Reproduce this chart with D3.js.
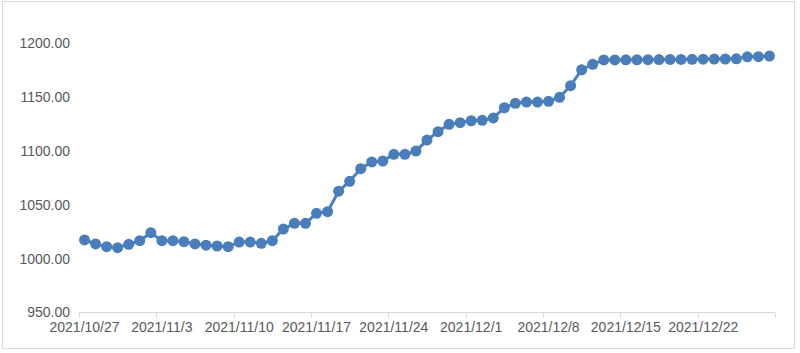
<!DOCTYPE html>
<html>
<head>
<meta charset="utf-8">
<script src="https://cdn.jsdelivr.net/npm/d3@7"></script>
<style>
  body { margin: 0; background: #fff; }
  svg text { font-family: "Liberation Sans", Arial, sans-serif; fill: #595959; font-size: 14px; }
</style>
</head>
<body>
<svg id="chart" width="800" height="353"></svg>
<script>
const startDate = "2021/10/27";
const values = [
  1017.4, 1013.7, 1011.2, 1010.2, 1013.4, 1016.7, 1024.2, 1016.7, 1016.7, 1015.8,
  1013.7, 1012.6, 1011.8, 1011.2, 1015.5, 1015.5, 1014.3, 1016.7, 1027.6, 1032.9,
  1032.9, 1042.2, 1043.7, 1062.8, 1071.9, 1083.7, 1089.9, 1090.8, 1097.0, 1097.0,
  1100.0, 1110.2, 1118.0, 1124.9, 1126.4, 1128.2, 1128.6, 1130.8, 1140.3, 1144.4,
  1145.6, 1145.6, 1146.3, 1150.0, 1160.8, 1175.6, 1180.7, 1184.7, 1184.7, 1184.8,
  1184.9, 1185.0, 1185.1, 1185.2, 1185.2, 1185.3, 1185.4, 1185.5, 1185.6, 1185.8,
  1187.6, 1187.7, 1188.3
];
const yTicks = [950, 1000, 1050, 1100, 1150, 1200];
const xTickLabels = ["2021/10/27", "2021/11/3", "2021/11/10", "2021/11/17", "2021/11/24",
  "2021/12/1", "2021/12/8", "2021/12/15", "2021/12/22"];

const parse = d3.timeParse("%Y/%m/%d");
const t0 = parse(startDate);
const data = values.map((v, i) => ({ date: d3.timeDay.offset(t0, i), value: v }));

const svg = d3.select("#chart");
const plotLeft = 79, plotRight = 775, plotTop = 43.5, plotBottom = 312.5;

// chart frame
svg.append("rect")
  .attr("x", 2.5).attr("y", 1.5)
  .attr("width", 792).attr("height", 347)
  .attr("fill", "#fff").attr("stroke", "#d9d9d9");

// band per day, ticks at week boundaries
const x = d3.scaleBand()
  .domain(data.map(d => d.date.getTime()))
  .range([plotLeft, plotRight])
  .paddingInner(0).paddingOuter(0);

const y = d3.scaleLinear().domain([950, 1200]).range([plotBottom, plotTop]);

// y labels
svg.append("g")
  .selectAll("text")
  .data(yTicks)
  .join("text")
  .attr("x", 70)
  .attr("y", d => y(d))
  .attr("dy", "0.35em")
  .attr("text-anchor", "end")
  .text(d => d3.format(".2f")(d));

// x axis line + ticks
const axisG = svg.append("g");
axisG.append("line")
  .attr("x1", plotLeft).attr("x2", plotRight)
  .attr("y1", plotBottom).attr("y2", plotBottom)
  .attr("stroke", "#d9d9d9").attr("stroke-width", 1);

const tickIdx = d3.range(0, data.length + 1, 7);
axisG.selectAll("line.tick")
  .data(tickIdx)
  .join("line")
  .attr("class", "tick")
  .attr("x1", i => Math.round(plotLeft + i * x.step()) + 0.5)
  .attr("x2", i => Math.round(plotLeft + i * x.step()) + 0.5)
  .attr("y1", plotBottom).attr("y2", plotBottom + 5)
  .attr("stroke", "#d9d9d9");

axisG.selectAll("text")
  .data(xTickLabels)
  .join("text")
  .attr("x", d => x(parse(d).getTime()) + x.bandwidth() / 2)
  .attr("y", 327)
  .attr("dy", "0.35em")
  .attr("text-anchor", "middle")
  .text(d => d);

// series
const cx = d => x(d.date.getTime()) + x.bandwidth() / 2;
const line = d3.line().x(cx).y(d => y(d.value));

svg.append("path")
  .datum(data)
  .attr("d", line)
  .attr("fill", "none")
  .attr("stroke", "#4a7ebb")
  .attr("stroke-width", 3)
  .attr("stroke-linejoin", "round");

svg.append("g")
  .selectAll("circle")
  .data(data)
  .join("circle")
  .attr("cx", cx)
  .attr("cy", d => y(d.value))
  .attr("r", 5.5)
  .attr("fill", "#4a7ebb");
</script>
</body>
</html>
